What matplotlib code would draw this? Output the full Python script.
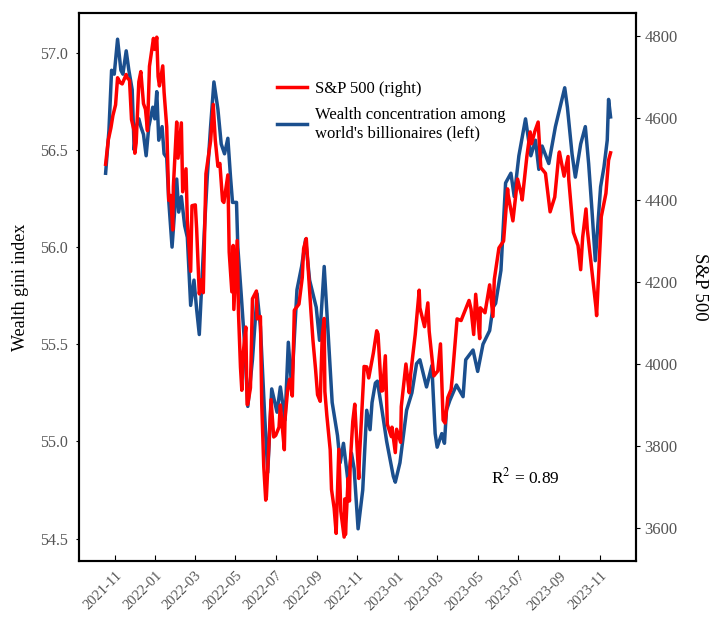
import pandas as pd
import matplotlib
matplotlib.use("Agg")
import matplotlib.pyplot as plt
import matplotlib.dates as mdates

# S&P 500 closes (right axis)
sp_dates = [
    "2021-10-18", "2021-10-22", "2021-10-26", "2021-10-29", "2021-11-02", "2021-11-05",
    "2021-11-09", "2021-11-12", "2021-11-18", "2021-11-19", "2021-11-23", "2021-11-26",
    "2021-11-30", "2021-12-01", "2021-12-03", "2021-12-07", "2021-12-10", "2021-12-14",
    "2021-12-17", "2021-12-20", "2021-12-23", "2021-12-29", "2021-12-31", "2022-01-03",
    "2022-01-05", "2022-01-07", "2022-01-12", "2022-01-14", "2022-01-18", "2022-01-21",
    "2022-01-24", "2022-01-27", "2022-01-28", "2022-02-02", "2022-02-04", "2022-02-09",
    "2022-02-11", "2022-02-16", "2022-02-18", "2022-02-23", "2022-02-25", "2022-03-02",
    "2022-03-04", "2022-03-08", "2022-03-11", "2022-03-14", "2022-03-18", "2022-03-25",
    "2022-03-29", "2022-04-01", "2022-04-05", "2022-04-08", "2022-04-12", "2022-04-14",
    "2022-04-20", "2022-04-22", "2022-04-26", "2022-04-28", "2022-04-29", "2022-05-04",
    "2022-05-06", "2022-05-09", "2022-05-11", "2022-05-13", "2022-05-17", "2022-05-19",
    "2022-05-20", "2022-05-24", "2022-05-27", "2022-06-02", "2022-06-03", "2022-06-08",
    "2022-06-10", "2022-06-13", "2022-06-16", "2022-06-17", "2022-06-24", "2022-06-28",
    "2022-07-01", "2022-07-06", "2022-07-08", "2022-07-14", "2022-07-15", "2022-07-19",
    "2022-07-22", "2022-07-26", "2022-07-29", "2022-08-05", "2022-08-10", "2022-08-12",
    "2022-08-16", "2022-08-19", "2022-08-23", "2022-08-26", "2022-08-30", "2022-09-02",
    "2022-09-06", "2022-09-09", "2022-09-12", "2022-09-13", "2022-09-16", "2022-09-21",
    "2022-09-23", "2022-09-27", "2022-09-30", "2022-10-04", "2022-10-07", "2022-10-12",
    "2022-10-13", "2022-10-14", "2022-10-18", "2022-10-20", "2022-10-21", "2022-10-25",
    "2022-10-28", "2022-11-03", "2022-11-04", "2022-11-10", "2022-11-11", "2022-11-15",
    "2022-11-18", "2022-11-25", "2022-11-30", "2022-12-02", "2022-12-07", "2022-12-09",
    "2022-12-13", "2022-12-16", "2022-12-22", "2022-12-23", "2022-12-28", "2022-12-30",
    "2023-01-05", "2023-01-06", "2023-01-13", "2023-01-18", "2023-01-20", "2023-01-27",
    "2023-02-02", "2023-02-03", "2023-02-10", "2023-02-15", "2023-02-17", "2023-02-24",
    "2023-03-02", "2023-03-06", "2023-03-10", "2023-03-13", "2023-03-17", "2023-03-22",
    "2023-03-24", "2023-03-31", "2023-04-06", "2023-04-14", "2023-04-18", "2023-04-21",
    "2023-04-25", "2023-04-28", "2023-05-04", "2023-05-05", "2023-05-12", "2023-05-19",
    "2023-05-24", "2023-05-26", "2023-06-02", "2023-06-09", "2023-06-15", "2023-06-16",
    "2023-06-23", "2023-06-30", "2023-07-06", "2023-07-07", "2023-07-14", "2023-07-19",
    "2023-07-21", "2023-07-26", "2023-07-31", "2023-08-04", "2023-08-09", "2023-08-11",
    "2023-08-18", "2023-08-25", "2023-08-31", "2023-09-01", "2023-09-08", "2023-09-14",
    "2023-09-15", "2023-09-22", "2023-09-29", "2023-10-03", "2023-10-06", "2023-10-11",
    "2023-10-13", "2023-10-20", "2023-10-26", "2023-10-27", "2023-11-02", "2023-11-03",
    "2023-11-10", "2023-11-14", "2023-11-17",
]
sp_values = [
    4486, 4545, 4575, 4605, 4631, 4697,
    4685, 4682, 4705, 4698, 4691, 4595,
    4567, 4513, 4538, 4687, 4712, 4634,
    4620, 4568, 4725, 4793, 4766, 4796,
    4700, 4677, 4726, 4662, 4577, 4398,
    4410, 4326, 4432, 4589, 4501, 4587,
    4419, 4475, 4349, 4225, 4385, 4387,
    4329, 4170, 4204, 4173, 4463, 4543,
    4632, 4546, 4481, 4488, 4397, 4393,
    4460, 4272, 4175, 4288, 4132, 4300,
    4123, 3991, 3935, 4024, 4089, 3900,
    3901, 3941, 4158, 4177, 4109, 4115,
    3901, 3750, 3667, 3675, 3912, 3821,
    3825, 3845, 3899, 3790, 3863, 3937,
    3962, 3921, 4130, 4145, 4210, 4280,
    4305, 4228, 4128, 4058, 3986, 3924,
    3908, 4067, 4110, 3932, 3873, 3790,
    3693, 3647, 3586, 3791, 3640, 3577,
    3670, 3583, 3720, 3665, 3752, 3859,
    3901, 3720, 3771, 3956, 3993, 3992,
    3965, 4026, 4080, 4072, 3933, 3934,
    4019, 3852, 3822, 3845, 3783, 3840,
    3808, 3895, 3999, 3929, 3973, 4071,
    4179, 4136, 4090, 4148, 4079, 3970,
    3982, 4048, 3862, 3855, 3917, 3937,
    3971, 4109, 4105, 4138, 4154, 4133,
    4071, 4169, 4061, 4136, 4124, 4192,
    4115, 4205, 4282, 4299, 4426, 4410,
    4348, 4450, 4411, 4399, 4505, 4565,
    4536, 4566, 4589, 4478, 4468, 4464,
    4370, 4406, 4508, 4516, 4457, 4505,
    4450, 4320, 4288, 4229, 4308, 4377,
    4327, 4224, 4137, 4117, 4317, 4358,
    4415, 4496, 4514,
]

# wealth gini index of billionaires (left axis)
gini_dates = [
    "2021-10-18", "2021-10-23", "2021-10-27", "2021-10-31", "2021-11-05", "2021-11-10",
    "2021-11-13", "2021-11-18", "2021-11-22", "2021-11-27", "2021-11-30", "2021-12-03",
    "2021-12-07", "2021-12-10", "2021-12-14", "2021-12-18", "2021-12-22", "2021-12-28",
    "2021-12-31", "2022-01-03", "2022-01-06", "2022-01-11", "2022-01-14", "2022-01-18",
    "2022-01-21", "2022-01-26", "2022-01-30", "2022-02-02", "2022-02-05", "2022-02-09",
    "2022-02-14", "2022-02-18", "2022-02-23", "2022-02-28", "2022-03-04", "2022-03-08",
    "2022-03-11", "2022-03-16", "2022-03-20", "2022-03-25", "2022-03-30", "2022-04-05",
    "2022-04-10", "2022-04-15", "2022-04-20", "2022-04-24", "2022-04-27", "2022-05-03",
    "2022-05-05", "2022-05-10", "2022-05-15", "2022-05-20", "2022-05-27", "2022-06-03",
    "2022-06-08", "2022-06-14", "2022-06-19", "2022-06-25", "2022-07-03", "2022-07-08",
    "2022-07-15", "2022-07-20", "2022-07-25", "2022-08-02", "2022-08-09", "2022-08-15",
    "2022-08-21", "2022-08-31", "2022-09-05", "2022-09-12", "2022-09-17", "2022-09-24",
    "2022-10-02", "2022-10-06", "2022-10-11", "2022-10-18", "2022-10-23", "2022-10-27",
    "2022-11-02", "2022-11-09", "2022-11-15", "2022-11-20", "2022-11-23", "2022-11-28",
    "2022-12-01", "2022-12-08", "2022-12-15", "2022-12-25", "2022-12-28", "2023-01-04",
    "2023-01-14", "2023-01-22", "2023-01-29", "2023-02-03", "2023-02-13", "2023-02-21",
    "2023-02-26", "2023-03-01", "2023-03-08", "2023-03-12", "2023-03-15", "2023-03-20",
    "2023-03-30", "2023-04-09", "2023-04-13", "2023-04-24", "2023-05-01", "2023-05-09",
    "2023-05-19", "2023-05-24", "2023-05-28", "2023-06-05", "2023-06-12", "2023-06-20",
    "2023-06-25", "2023-07-02", "2023-07-12", "2023-07-20", "2023-07-27", "2023-08-01",
    "2023-08-06", "2023-08-16", "2023-08-26", "2023-09-09", "2023-09-13", "2023-09-20",
    "2023-09-25", "2023-10-03", "2023-10-10", "2023-10-15", "2023-10-20", "2023-10-25",
    "2023-11-02", "2023-11-07", "2023-11-12", "2023-11-14", "2023-11-17",
]
gini_values = [
    56.38, 56.60, 56.91, 56.89, 57.07, 56.91,
    56.89, 57.01, 56.91, 56.81, 56.50, 56.62,
    56.66, 56.62, 56.58, 56.47, 56.62, 56.72,
    56.66, 56.80, 56.55, 56.62, 56.48, 56.46,
    56.24, 56.00, 56.19, 56.35, 56.18, 56.26,
    56.11, 56.05, 55.70, 55.83, 55.68, 55.55,
    55.76, 56.11, 56.36, 56.62, 56.85, 56.71,
    56.53, 56.48, 56.56, 56.36, 56.23, 56.23,
    56.00, 55.76, 55.51, 55.18, 55.42, 55.76,
    55.59, 55.16, 54.84, 55.27, 55.15, 55.28,
    55.11, 55.51, 55.28, 55.78, 55.90, 56.04,
    55.83, 55.69, 55.52, 55.90, 55.61, 55.20,
    55.03, 54.89, 54.99, 54.79, 54.94, 54.86,
    54.55, 54.75, 55.16, 55.06, 55.20, 55.30,
    55.31, 55.16, 55.00, 54.82, 54.79, 54.89,
    55.16, 55.25, 55.40, 55.42, 55.28, 55.39,
    55.04, 54.97, 55.04, 54.99, 55.16, 55.21,
    55.29, 55.23, 55.42, 55.47, 55.36, 55.50,
    55.57, 55.69, 55.71, 55.88, 56.33, 56.38,
    56.26, 56.47, 56.66, 56.47, 56.55, 56.40,
    56.52, 56.43, 56.62, 56.82, 56.72, 56.48,
    56.36, 56.53, 56.62, 56.43, 56.19, 55.93,
    56.31, 56.41, 56.55, 56.76, 56.67,
]

plt.rcParams['font.family'] = ['Liberation Serif', 'DejaVu Serif']
plt.rcParams['mathtext.fontset'] = 'stix'

fig = plt.figure(figsize=(7.12, 6.17), dpi=100)
ax = fig.add_axes([0.111, 0.091, 0.782, 0.888])
ax2 = ax.twinx()

blue = '#1b4f8e'
red = '#ff0000'

g_line, = ax.plot(pd.to_datetime(gini_dates), gini_values, color=blue, lw=2.5,
                  label="Wealth concentration among\nworld's billionaires (left)")
s_line, = ax2.plot(pd.to_datetime(sp_dates), sp_values, color=red, lw=2.5,
                   label='S&P 500 (right)')

ax.set_ylim(54.385, 57.205)
ax2.set_ylim(3519, 4855)
ax.set_yticks([54.5, 55.0, 55.5, 56.0, 56.5, 57.0])
ax2.set_yticks([3600, 3800, 4000, 4200, 4400, 4600, 4800])
ax.yaxis.set_major_formatter(matplotlib.ticker.FormatStrFormatter('%.1f'))

ax.set_xlim(pd.Timestamp('2021-09-08'), pd.Timestamp('2023-12-25'))
ax.xaxis.set_major_locator(mdates.MonthLocator(bymonth=[1, 3, 5, 7, 9, 11]))
ax.xaxis.set_major_formatter(mdates.DateFormatter('%Y-%m'))
plt.setp(ax.get_xticklabels(), rotation=45, ha='right', rotation_mode='anchor')

tick_col = '#555555'
ax.tick_params(axis='x', direction='in', length=4, labelsize=10.5, labelcolor=tick_col, pad=6)
ax.tick_params(axis='y', direction='out', length=2, labelsize=11.5, labelcolor=tick_col, pad=6)
ax2.tick_params(axis='y', direction='out', length=3, labelsize=12, labelcolor=tick_col, pad=3)

for sp in ax.spines.values():
    sp.set_linewidth(1.5)
for sp in ax2.spines.values():
    sp.set_linewidth(1.5)

ax.set_ylabel('Wealth gini index', fontsize=13, labelpad=8)
ax2.set_ylabel('S&P 500', fontsize=13.5, rotation=270, labelpad=22)

ax.legend([s_line, g_line], [s_line.get_label(), g_line.get_label()],
          loc='upper left', bbox_to_anchor=(0.355, 0.876), frameon=False,
          borderpad=0, borderaxespad=0, fontsize=12, handlelength=1.8,
          handletextpad=0.5, labelspacing=0.6)

ax.text(0.74, 0.142, r'R$^2$ = 0.89', transform=ax.transAxes, fontsize=12.5)

fig.savefig('out.png', dpi=100)
